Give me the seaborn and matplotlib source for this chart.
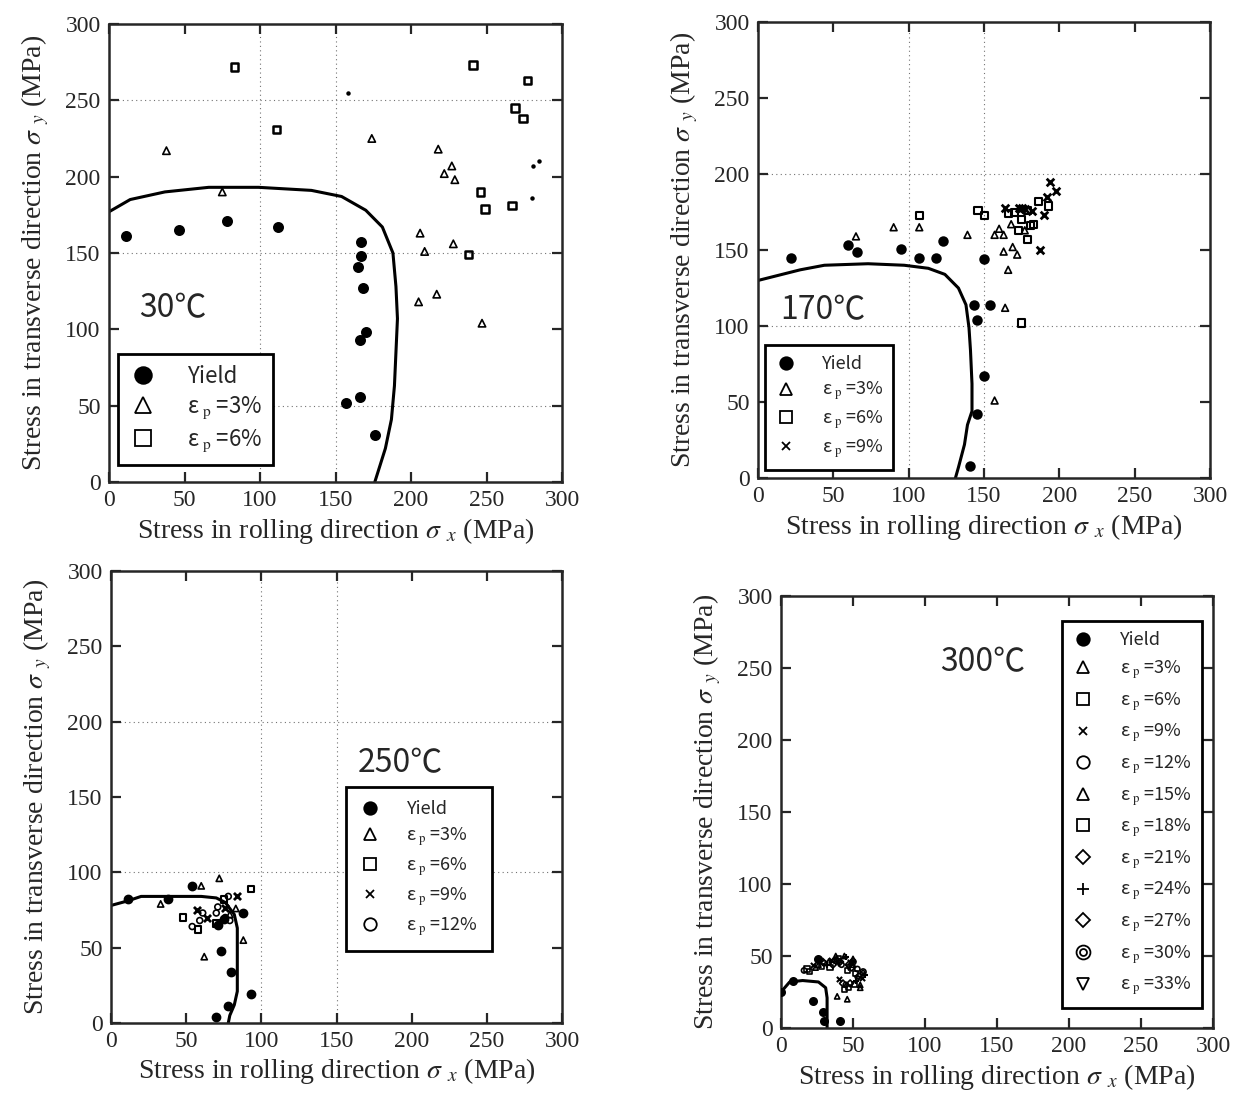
import matplotlib
matplotlib.use("Agg")
import matplotlib.pyplot as plt
import seaborn as sns
from matplotlib.lines import Line2D
from matplotlib.legend_handler import HandlerTuple

# ---- 30 C ----
t30_surface = [(0, 177), (14, 185), (37, 190), (66, 193), (99, 193), (134, 191), (154, 187),
               (170, 178), (181, 167), (188, 150), (190, 128), (191, 107), (190, 85),
               (189, 63), (187, 41), (183, 22), (176, 0)]
t30_yield = [(11, 161), (46, 165), (78, 171), (112, 167), (167, 157), (167, 148), (165, 141),
             (168, 127), (170, 98), (166, 93), (166, 56), (157, 52), (176, 31)]
t30_e3 = [(38, 217), (75, 190), (174, 225), (218, 218), (227, 207), (222, 202), (229, 198),
          (206, 163), (209, 151), (228, 156), (205, 118), (217, 123), (247, 104)]
t30_e6 = [(83, 272), (111, 231), (241, 273), (277, 263), (269, 245), (274, 238), (246, 190),
          (249, 179), (267, 181), (238, 149)]
t30_dots = [(158, 255), (281, 207), (285, 210), (280, 186)]

# ---- 170 C ----
t170_surface = [(0, 130), (28, 137), (44, 140), (73, 141), (97, 140), (113, 138), (124, 134),
                (133, 125), (138, 114), (140, 99), (141, 84), (142, 62), (142, 44), (139, 35),
                (137, 22), (133, 7), (131, 0)]
t170_yield = [(22, 145), (60, 153), (66, 149), (95, 151), (107, 145), (118, 145), (123, 156),
              (150, 144), (143, 114), (154, 114), (145, 104), (150, 67), (145, 42), (141, 8)]
t170_e3 = [(65, 159), (90, 165), (107, 165), (139, 160), (157, 160), (160, 164), (163, 160),
           (163, 149), (169, 152), (172, 147), (166, 137), (164, 112), (157, 51), (168, 167),
           (177, 163)]
t170_e6 = [(107, 173), (146, 176), (150, 173), (166, 174), (170, 175), (175, 170), (173, 163),
           (179, 157), (181, 166), (183, 167), (186, 182), (193, 179), (175, 102), (179, 176)]
t170_e9 = [(164, 178), (173, 178), (177, 177), (182, 176), (190, 173), (192, 185), (194, 195),
           (198, 189), (187, 150), (175, 178)]

# ---- 250 C ----
t250_surface = [(0, 78), (11, 81), (20, 84), (38, 84), (60, 84), (70, 83), (76, 80), (82, 72),
                (84, 63), (84, 45), (84, 21), (82, 12), (79, 5), (78, 0)]
t250_yield = [(11, 82), (38, 82), (54, 91), (88, 73), (73, 48), (80, 34), (93, 19), (78, 11),
              (70, 4), (71, 65), (75, 69)]
t250_e3 = [(60, 91), (72, 96), (33, 79), (83, 76), (88, 55), (62, 44), (79, 72)]
t250_e6 = [(93, 89), (48, 70), (58, 62), (70, 66), (75, 82)]
t250_e9 = [(84, 84), (57, 75), (64, 70), (76, 76)]
t250_e12 = [(78, 84), (54, 64), (59, 68), (61, 73), (70, 73), (71, 77), (79, 68), (76, 70)]

# ---- 300 C ----
t300_surface = [(0, 25), (6, 32), (15, 33), (26, 32), (31, 28), (32, 21), (32, 10), (32, 0)]
t300_yield = [(0, 25), (8, 33), (26, 48), (22, 19), (29, 11), (30, 5), (41, 5)]
t300_e3 = [(24, 42), (33, 46), (44, 50), (50, 44), (55, 30), (46, 20)]
t300_e6 = [(18, 41), (28, 43), (40, 48), (52, 38), (47, 28)]
t300_e9 = [(22, 44), (35, 47), (48, 46), (56, 35), (40, 34)]
t300_e12 = [(16, 40), (30, 45), (42, 44), (53, 41), (45, 30)]
t300_e15 = [(26, 44), (38, 50), (50, 48), (55, 28), (39, 22)]
t300_e18 = [(20, 39), (34, 42), (46, 40), (51, 30), (44, 27)]
t300_e21 = [(29, 46), (41, 46), (49, 42), (43, 31)]
t300_e24 = [(32, 44), (45, 49), (58, 37), (52, 33)]
t300_e27 = [(36, 44), (47, 44), (54, 36), (48, 31)]
t300_e30 = [(38, 47), (50, 46), (57, 39)]
t300_e33 = [(40, 45), (47, 42), (53, 34)]

ticks = [0, 50, 100, 150, 200, 250, 300]

sns.set_style("ticks")
plt.rcParams["font.family"] = ["Liberation Serif", "DejaVu Serif"]
plt.rcParams["mathtext.fontset"] = "stix"
SANS = ["Noto Sans CJK JP", "DejaVu Sans"]


def dots(ax, pts, marker, size, filled=False, lw=1.2):
    xs = [p[0] for p in pts]
    ys = [p[1] for p in pts]
    if filled or marker in ("x", "+"):
        sns.scatterplot(x=xs, y=ys, ax=ax, marker=marker, s=size, color="black",
                        edgecolor="black", linewidth=lw, zorder=3)
    else:
        sns.scatterplot(x=xs, y=ys, ax=ax, marker=marker, s=size, facecolor="none",
                        edgecolor="black", linewidth=lw, zorder=3)


def curve(ax, pts):
    sns.lineplot(x=[p[0] for p in pts], y=[p[1] for p in pts], ax=ax, sort=False,
                 estimator=None, color="black", lw=2.2, zorder=2)


def frame(ax, xgrid, ygrid):
    ax.set_xlim(0, 300)
    ax.set_ylim(0, 300)
    ax.set_xticks(ticks)
    ax.set_yticks(ticks)
    ax.tick_params(direction="in", top=True, right=True, length=7, width=1.6,
                   labelsize=17, pad=6)
    for s in ax.spines.values():
        s.set_linewidth(1.8)
    for v in xgrid:
        ax.axvline(v, ls=(0, (1, 3)), color="0.45", lw=0.8, zorder=0)
    for v in ygrid:
        ax.axhline(v, ls=(0, (1, 3)), color="0.45", lw=0.8, zorder=0)
    ax.set_xlabel(r"Stress in rolling direction $\sigma\ _{x}$ (MPa)", fontsize=20, labelpad=3)
    ax.set_ylabel(r"Stress in transverse direction $\sigma\ _{y}$ (MPa)", fontsize=20, labelpad=10)


def key(marker, ms, filled=False):
    return Line2D([], [], ls="none", marker=marker, ms=ms, mew=1.3,
                  mfc="black" if filled else "none", mec="black")


def legend(ax, handles, labels, anchor, size, spacing, pad=0.8):
    leg = ax.legend(handles, labels, loc="lower left", bbox_to_anchor=anchor,
                    borderaxespad=0, frameon=True, fancybox=False, edgecolor="black",
                    framealpha=1, borderpad=pad, labelspacing=spacing, handlelength=1.2,
                    handletextpad=1.4, prop={"family": SANS, "size": size},
                    handler_map={tuple: HandlerTuple(ndivide=1)})
    leg.get_frame().set_linewidth(2)
    return leg


def eps(v):
    return "ε" + r"$_{\ \rm p}$ =" + str(v) + "%"


fig = plt.figure(figsize=(12.35, 11.04), dpi=100)
ax1 = fig.add_axes([0.0883, 0.5634, 0.3668, 0.4149])
ax2 = fig.add_axes([0.6138, 0.5670, 0.3660, 0.4130])
ax3 = fig.add_axes([0.0899, 0.0734, 0.3652, 0.4094])
ax4 = fig.add_axes([0.6324, 0.0688, 0.3498, 0.3913])

# 30 C
frame(ax1, [100, 150], [50, 150, 250])
curve(ax1, t30_surface)
dots(ax1, t30_yield, "o", 45, filled=True)
dots(ax1, t30_e3, "^", 28)
dots(ax1, t30_e6, "s", 30, lw=1.8)
dots(ax1, t30_dots, "o", 4, filled=True)
ax1.text(0.141, 0.38, "30℃", transform=ax1.transAxes, ha="center", va="center",
         fontsize=23, family=SANS)
legend(ax1, [key("o", 12, True), key("^", 11), key("s", 11)],
       ["Yield", eps(3), eps(6)], (0.02, 0.037), 16, 0.3, pad=0.5)

# 170 C
frame(ax2, [100, 150], [100, 200])
curve(ax2, t170_surface)
dots(ax2, t170_yield, "o", 40, filled=True)
dots(ax2, t170_e3, "^", 24)
dots(ax2, t170_e6, "s", 26, lw=1.5)
dots(ax2, t170_e9, "x", 30, lw=2)
ax2.text(0.144, 0.368, "170℃", transform=ax2.transAxes, ha="center", va="center",
         fontsize=23, family=SANS)
legend(ax2, [key("o", 9, True), key("^", 8), key("s", 9), key("x", 6)],
       ["Yield", eps(3), eps(6), eps(9)], (0.0155, 0.0175), 13, 0.35, pad=0.55)

# 250 C
frame(ax3, [100, 150], [100, 200])
curve(ax3, t250_surface)
dots(ax3, t250_yield, "o", 34, filled=True)
dots(ax3, t250_e3, "^", 20)
dots(ax3, t250_e6, "s", 22, lw=1.5)
dots(ax3, t250_e9, "x", 26, lw=2)
dots(ax3, t250_e12, "o", 18)
ax3.text(0.641, 0.575, "250℃", transform=ax3.transAxes, ha="center", va="center",
         fontsize=23, family=SANS)
legend(ax3, [key("o", 9, True), key("^", 8), key("s", 9), key("x", 6), key("o", 9)],
       ["Yield", eps(3), eps(6), eps(9), eps(12)], (0.521, 0.159), 13, 0.4, pad=0.75)

# 300 C
frame(ax4, [], [])
curve(ax4, t300_surface)
dots(ax4, t300_yield, "o", 28, filled=True)
dots(ax4, t300_e3, "^", 14)
dots(ax4, t300_e6, "s", 14)
dots(ax4, t300_e9, "x", 14, lw=1.5)
dots(ax4, t300_e12, "o", 14)
dots(ax4, t300_e15, "^", 14)
dots(ax4, t300_e18, "s", 14)
dots(ax4, t300_e21, "D", 12)
dots(ax4, t300_e24, "+", 20, lw=1.5)
dots(ax4, t300_e27, "D", 12)
dots(ax4, t300_e30, "o", 18)
dots(ax4, t300_e30, "o", 4)
dots(ax4, t300_e33, "v", 14)
ax4.text(0.468, 0.847, "300℃", transform=ax4.transAxes, ha="center", va="center",
         fontsize=23, family=SANS)
h4 = [key("o", 9, True), key("^", 8), key("s", 9), key("x", 6), key("o", 9), key("^", 8),
      key("s", 9), key("D", 7), key("+", 9), key("D", 7), (key("o", 10), key("o", 5)),
      key("v", 8)]
l4 = ["Yield"] + [eps(v) for v in [3, 6, 9, 12, 15, 18, 21, 24, 27, 30, 33]]
legend(ax4, h4, l4, (0.650, 0.046), 13, 0.5, pad=0.6)

fig.savefig("out.png", dpi=100)
